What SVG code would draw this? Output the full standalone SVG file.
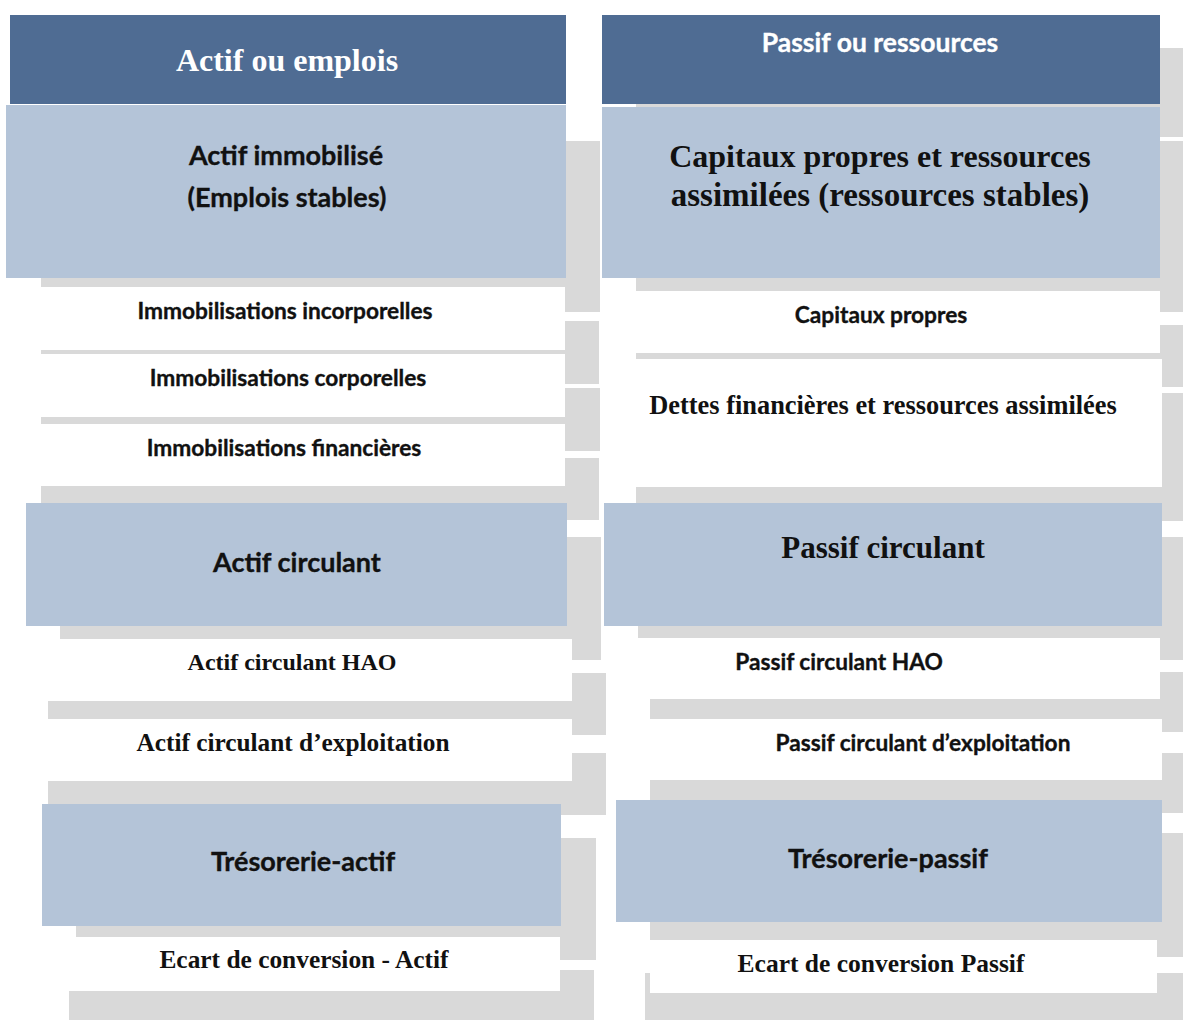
<svg xmlns="http://www.w3.org/2000/svg" width="1183" height="1020" viewBox="0 0 1183 1020">
<style>
.sh{fill:#D9D9D9}
.hd{fill:#4F6C93}
.bl{fill:#B4C4D8}
.wh{fill:#FFFFFF}
.sans{font-family:Lato,"Liberation Sans",sans-serif;font-weight:bold;fill:#111;stroke:#111;stroke-width:0.35px}
.serif{font-family:"Liberation Serif",serif;font-weight:bold;fill:#111}
.t1{font-size:27px}
.t2{font-size:22.7px}
text{text-anchor:middle}
</style>
<rect width="1183" height="1020" fill="#FFFFFF"/>
<g id="connectors"></g>
<!-- Left column -->
<g id="actif-header">
<rect class="hd" x="10" y="15" width="556" height="89"/>
<text class="serif" x="287" y="71" style="font-size:32px;fill:#FFFFFF">Actif ou emplois</text>
</g>
<g id="actif-immobilise">
<rect class="sh" x="41" y="141" width="559" height="171"/>
<rect class="bl" x="6" y="105" width="560" height="173"/>
<text class="sans t1" x="286" y="165">Actif immobilisé</text>
<text class="sans t1" x="287" y="207">(Emplois stables)</text>
</g>
<g id="immo-incorporelles">
<rect class="sh" x="41" y="321" width="558" height="63"/>
<rect class="wh" x="41" y="287" width="524" height="63"/>
<text class="sans t2" x="285" y="319">Immobilisations incorporelles</text>
</g>
<g id="immo-corporelles">
<rect class="sh" x="41" y="388" width="559" height="63"/>
<rect class="wh" x="41" y="354" width="524" height="63"/>
<text class="sans t2" x="288" y="386">Immobilisations corporelles</text>
</g>
<g id="immo-financieres">
<rect class="sh" x="41" y="458" width="558" height="62"/>
<rect class="wh" x="41" y="424" width="524" height="62"/>
<text class="sans t2" x="284" y="456">Immobilisations financières</text>
</g>
<g id="actif-circulant">
<rect class="sh" x="60" y="537" width="541" height="123"/>
<rect class="bl" x="26" y="503" width="541" height="123"/>
<text class="sans t1" x="297" y="572">Actif circulant</text>
</g>
<g id="actif-circulant-hao">
<rect class="sh" x="48" y="673" width="558" height="62"/>
<rect class="wh" x="48" y="639" width="524" height="62"/>
<text class="serif" x="292" y="670" style="font-size:24px">Actif circulant HAO</text>
</g>
<g id="actif-circulant-exploitation">
<rect class="sh" x="48" y="753" width="558" height="62"/>
<rect class="wh" x="48" y="719" width="524" height="62"/>
<text class="serif" x="293" y="751" style="font-size:25.3px">Actif circulant d’exploitation</text>
</g>
<g id="tresorerie-actif">
<rect class="sh" x="76" y="838" width="520" height="122"/>
<rect class="bl" x="42" y="804" width="519" height="122"/>
<text class="sans t1" x="303" y="871">Trésorerie-actif</text>
</g>
<g id="ecart-actif">
<rect class="sh" x="69" y="970" width="525" height="54"/>
<rect class="wh" x="69" y="937" width="491" height="54"/>
<text class="serif" x="304" y="968" style="font-size:25.4px">Ecart de conversion - Actif</text>
</g>
<!-- Right column -->
<g id="passif-header">
<rect class="sh" x="636" y="48" width="558" height="89"/>
<rect class="hd" x="602" y="15" width="558" height="89"/>
<text class="sans" x="880" y="52" style="font-size:26.5px;fill:#FFFFFF;stroke:#FFFFFF">Passif ou ressources</text>
</g>
<g id="capitaux-ressources-stables">
<rect class="sh" x="636" y="141" width="558" height="171"/>
<rect class="bl" x="602" y="107" width="558" height="171"/>
<text class="serif" x="880" y="167" style="font-size:32px">Capitaux propres et ressources</text>
<text class="serif" x="880" y="206" style="font-size:33px">assimilées (ressources stables)</text>
</g>
<g id="capitaux-propres">
<rect class="sh" x="636" y="325" width="558" height="62"/>
<rect class="wh" x="636" y="291" width="524" height="62"/>
<text class="sans t2" x="881" y="323">Capitaux propres</text>
</g>
<g id="dettes-financieres">
<rect class="sh" x="636" y="393" width="560" height="128"/>
<rect class="wh" x="636" y="359" width="526" height="128"/>
<text class="serif" x="883" y="414" style="font-size:26.4px">Dettes financières et ressources assimilées</text>
</g>
<g id="passif-circulant">
<rect class="sh" x="638" y="537" width="558" height="123"/>
<rect class="bl" x="604" y="503" width="558" height="123"/>
<text class="serif" x="883" y="558" style="font-size:31px">Passif circulant</text>
</g>
<g id="passif-circulant-hao">
<rect class="sh" x="650" y="672" width="544" height="60"/>
<rect class="wh" x="638" y="638" width="522" height="61"/>
<text class="sans t2" x="839" y="670">Passif circulant HAO</text>
</g>
<g id="passif-circulant-exploitation">
<rect class="sh" x="650" y="753" width="546" height="60"/>
<rect class="wh" x="650" y="719" width="512" height="61"/>
<text class="sans t2" x="923" y="751">Passif circulant d’exploitation</text>
</g>
<g id="tresorerie-passif">
<rect class="sh" x="650" y="833" width="546" height="124"/>
<rect class="bl" x="616" y="800" width="546" height="122"/>
<text class="sans t1" x="888" y="868">Trésorerie-passif</text>
</g>
<g id="ecart-passif">
<rect class="sh" x="645" y="973" width="546" height="54"/>
<rect class="wh" x="650" y="940" width="507" height="53"/>
<text class="serif" x="881" y="972" style="font-size:25.5px">Ecart de conversion Passif</text>
</g>
</svg>
